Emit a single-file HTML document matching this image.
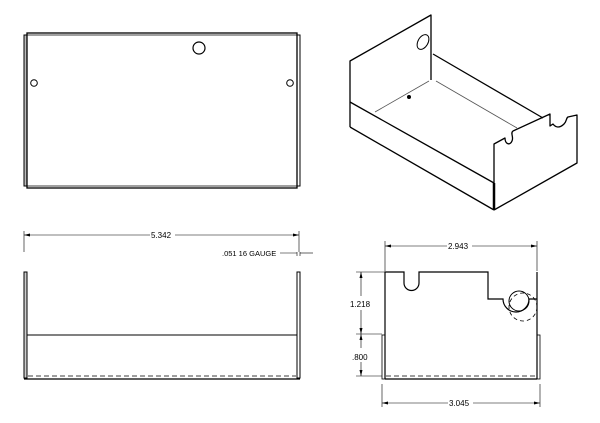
<!DOCTYPE html>
<html><head><style>
html,body{margin:0;padding:0;background:#fff;width:600px;height:423px;overflow:hidden}
svg{display:block}
text{font-family:"Liberation Sans",sans-serif;font-size:8px;fill:#000;stroke:none}
</style></head><body>
<svg width="600" height="423" viewBox="0 0 600 423" xmlns="http://www.w3.org/2000/svg" fill="none" stroke="#000">
<!-- top view -->
<rect x="24" y="35" width="3" height="151" fill="#bbb" stroke-width="1"/>
<rect x="297" y="35" width="3" height="151" fill="#fff" stroke-width="1"/>
<rect x="27" y="33" width="270" height="155" stroke-width="1.3"/>
<line x1="27" y1="35" x2="297" y2="35" stroke-width="0.8"/>
<line x1="27" y1="186" x2="297" y2="186" stroke-width="0.8"/>
<circle cx="199" cy="48" r="6" stroke-width="1.2"/>
<circle cx="34" cy="83" r="3.3" stroke-width="1"/>
<circle cx="290" cy="83" r="3.3" stroke-width="1"/>

<!-- front view -->
<line x1="24" y1="231" x2="24" y2="252" stroke-width="0.6"/>
<line x1="299" y1="231" x2="299" y2="252" stroke-width="0.6"/>
<line x1="24" y1="235" x2="150" y2="235" stroke-width="0.6"/>
<line x1="175" y1="235" x2="299" y2="235" stroke-width="0.6"/>
<path d="M24 235 l6 -1.5 v3z M299 235 l-6 -1.5 v3z" fill="#000" stroke="none"/>
<text x="151" y="238">5.342</text>
<text x="222" y="256" style="font-size:7.5px">.051  16 GAUGE</text>
<line x1="280" y1="253" x2="297" y2="253" stroke-width="0.6"/>
<line x1="300" y1="253" x2="313" y2="253" stroke-width="0.6"/>
<line x1="297" y1="252" x2="297" y2="256" stroke-width="0.6"/>
<line x1="300" y1="252" x2="300" y2="256" stroke-width="0.6"/>
<rect x="24" y="272" width="3" height="106" fill="#ccc" stroke-width="1"/>
<rect x="297" y="272" width="3" height="106" fill="#fff" stroke-width="1"/>
<line x1="27" y1="335" x2="297" y2="335" stroke-width="1"/>
<line x1="24" y1="379" x2="300" y2="379" stroke-width="1.2"/>
<line x1="28" y1="376" x2="296" y2="376" stroke-width="0.7" stroke-dasharray="5,3"/>

<!-- side view -->
<line x1="385" y1="241" x2="385" y2="271" stroke-width="0.6"/>
<line x1="537" y1="241" x2="537" y2="271" stroke-width="0.6"/>
<line x1="385" y1="246" x2="447" y2="246" stroke-width="0.6"/>
<line x1="472" y1="246" x2="537" y2="246" stroke-width="0.6"/>
<path d="M385 246 l6 -1.5 v3z M537 246 l-6 -1.5 v3z" fill="#000" stroke="none"/>
<text x="448" y="249">2.943</text>
<path d="M385 379 V272 H404 V283 A7.5 7.5 0 0 0 419 283 V272 H488 V299 H503 A13 13 0 0 0 529 299 H537 V272 M537 272 V379" stroke-width="1.2"/>
<circle cx="519" cy="301" r="10" stroke-width="1"/>
<circle cx="523" cy="307" r="14" stroke-width="0.8" stroke-dasharray="4,3"/>
<line x1="385" y1="379" x2="537" y2="379" stroke-width="1.2"/>
<rect x="382" y="335" width="3" height="44" stroke-width="0.8"/>
<rect x="537" y="335" width="3" height="44" stroke-width="0.8"/>
<line x1="386" y1="376" x2="536" y2="376" stroke-width="0.7" stroke-dasharray="5,3"/>
<line x1="356" y1="272" x2="385" y2="272" stroke-width="0.6"/>
<line x1="356" y1="334" x2="382" y2="334" stroke-width="0.6"/>
<line x1="356" y1="376" x2="382" y2="376" stroke-width="0.6"/>
<line x1="361" y1="272" x2="361" y2="296" stroke-width="0.6"/>
<line x1="361" y1="310" x2="361" y2="348" stroke-width="0.6"/>
<line x1="361" y1="362" x2="361" y2="376" stroke-width="0.6"/>
<path d="M361 272 l-1.5 6 h3z M361 334 l-1.5 -6 h3z M361 334 l-1.5 6 h3z M361 376 l-1.5 -6 h3z" fill="#000" stroke="none"/>
<text x="350" y="307">1.218</text>
<text x="352" y="360">.800</text>
<line x1="382" y1="384" x2="382" y2="407" stroke-width="0.6"/>
<line x1="540" y1="384" x2="540" y2="407" stroke-width="0.6"/>
<line x1="382" y1="403" x2="448" y2="403" stroke-width="0.6"/>
<line x1="473" y1="403" x2="540" y2="403" stroke-width="0.6"/>
<path d="M382 403 l6 -1.5 v3z M540 403 l-6 -1.5 v3z" fill="#000" stroke="none"/>
<text x="449" y="406">3.045</text>

<!-- isometric -->
<g stroke-width="1.3" stroke-linejoin="round">
<path d="M350 127 V61 L431 15 V80"/>
<ellipse cx="423" cy="42" rx="5" ry="8" transform="rotate(30 423 42)" stroke-width="1"/>
<line x1="350" y1="102" x2="494" y2="183"/>
<line x1="350" y1="127" x2="494" y2="210"/>
<line x1="433" y1="54" x2="543" y2="118"/>
<path d="M494 210 V144 L505 138 C505 144 510 146 512 141 C514 137 510 133 513 131 L550 114 V126 L553 124 C556 128 560 128 564 124 C567 121 566 118 568 117 L577 115 V163 L494 210"/>
<line x1="494" y1="183" x2="494" y2="210" stroke-width="2.5"/>
</g>
<line x1="375" y1="112" x2="429" y2="81" stroke-width="0.8" stroke="#555"/>
<line x1="436" y1="81" x2="517" y2="128" stroke-width="0.8" stroke="#555"/>
<circle cx="409" cy="97" r="1.5" fill="#000"/>
</svg>
</body></html>
